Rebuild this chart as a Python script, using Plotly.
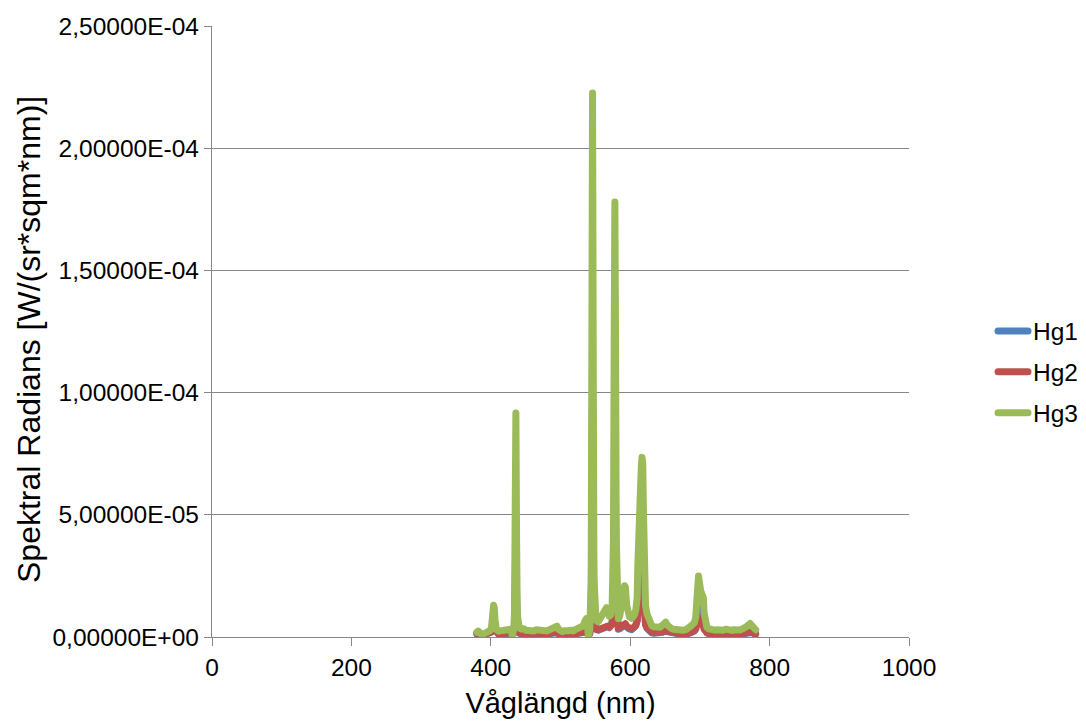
import numpy as np
import plotly.graph_objects as go

# Wavelength grid (nm) and spectral radiance of the three Hg lamp measurements,
# in units of 1e-6 W/(sr*sqm*nm)
wavelength = [
    380, 382, 385, 388, 391, 394, 397, 399, 401, 403, 404, 405, 406, 408, 411, 414,
    417, 420, 423, 426, 429, 431, 433, 434, 435, 436, 437, 438, 439, 441, 444, 447,
    450, 453, 456, 459, 462, 465, 468, 471, 474, 477, 480, 483, 486, 489, 492, 495,
    497, 500, 503, 506, 509, 512, 515, 518, 521, 524, 527, 530, 533, 535, 537, 539,
    540, 542, 543, 544, 545, 546, 547, 548, 549, 551, 554, 557, 560, 563, 565, 566,
    568, 570, 572, 574, 576, 577, 578, 579, 580, 581, 583, 585, 587, 589, 591, 592,
    593, 595, 597, 599, 602, 604, 606, 608, 610, 611, 612, 613, 614, 615, 616, 617,
    618, 619, 620, 621, 622, 624, 626, 628, 631, 634, 637, 640, 643, 646, 649, 651,
    653, 656, 659, 662, 665, 668, 671, 674, 677, 680, 683, 686, 689, 692, 694, 696,
    697, 698, 699, 701, 703, 704, 705, 706, 708, 710, 713, 716, 719, 722, 725, 728,
    731, 734, 737, 740, 743, 746, 749, 752, 755, 758, 761, 764, 767, 770, 772, 774,
    777, 780,
]

hg1 = [
    1.2, 1.4, 1.0, 0.5, 0.9, 1.1, 1.0, 1.3, 2.2, 4.5, 6.0, 5.5, 3.5, 1.6, 1.2, 1.2,
    1.1, 1.3, 1.5, 1.3, 1.4, 0.3, 1.8, 5.0, 22.0, 41.0, 18.0, 4.5, 2.2, 1.5, 1.3, 1.4,
    1.2, 1.0, 1.0, 1.1, 0.9, 1.2, 1.1, 0.8, 1.0, 0.7, 1.0, 1.1, 1.3, 1.6, 1.9, 1.8,
    1.2, 0.8, 1.0, 0.9, 0.8, 0.9, 1.0, 0.9, 1.2, 1.3, 1.4, 1.6, 1.9, 2.6, 3.0, 1.7,
    0.4, 1.5, 4.0, 10.0, 54.0, 100.0, 49.0, 11.0, 4.8, 3.0, 2.8, 3.2, 3.6, 4.0, 4.4, 4.6,
    4.3, 3.8, 4.4, 5.8, 18.0, 54.0, 80.0, 54.0, 18.0, 6.5, 3.2, 3.4, 4.0, 4.6, 5.0, 5.2,
    5.1, 4.0, 3.4, 3.2, 3.0, 3.3, 3.7, 4.6, 7.0, 13.0, 21.0, 24.0, 26.0, 29.0, 33.0, 35.0,
    34.0, 24.0, 15.0, 8.5, 5.5, 3.6, 2.8, 2.1, 1.7, 1.5, 1.5, 1.6, 1.5, 1.9, 2.4, 2.3,
    2.0, 1.5, 1.3, 1.2, 1.0, 1.1, 0.9, 1.0, 0.9, 1.0, 1.2, 1.6, 2.0, 2.6, 3.8, 8.0,
    11.5, 13.0, 12.0, 9.5, 8.0, 7.8, 6.5, 4.2, 2.4, 1.7, 1.3, 1.0, 1.1, 0.9, 1.0, 0.8,
    1.1, 0.9, 1.2, 0.9, 1.0, 0.9, 1.0, 0.8, 1.1, 0.9, 1.2, 1.4, 1.7, 2.0, 2.2, 1.9,
    1.4, 1.2,
]

hg2 = [
    1.5, 1.8, 1.2, 0.6, 1.1, 1.4, 1.3, 1.6, 2.0, 3.5, 4.2, 4.0, 2.8, 1.6, 1.3, 1.4,
    1.2, 1.5, 1.7, 1.5, 1.6, 0.3, 1.8, 4.0, 15.0, 27.0, 12.0, 3.5, 2.0, 1.6, 1.5, 1.6,
    1.3, 1.2, 1.1, 1.3, 1.1, 1.4, 1.3, 1.0, 1.2, 0.9, 1.1, 1.3, 1.5, 1.8, 2.1, 2.0,
    1.4, 1.0, 0.7, 1.0, 0.9, 1.1, 1.2, 1.1, 1.4, 1.5, 1.6, 1.8, 2.1, 2.8, 3.1, 1.8,
    0.4, 1.5, 3.0, 7.0, 36.0, 67.0, 33.0, 8.0, 4.2, 3.2, 3.0, 3.4, 3.9, 4.3, 4.6, 4.8,
    4.5, 4.0, 4.4, 5.2, 13.0, 36.0, 53.0, 36.0, 12.0, 5.5, 3.6, 3.8, 4.4, 5.0, 5.4, 5.5,
    5.4, 4.4, 3.8, 3.6, 3.5, 3.7, 4.1, 4.9, 6.5, 10.0, 16.0, 18.0, 19.0, 21.0, 24.0, 25.0,
    24.0, 17.0, 11.0, 7.0, 5.0, 3.8, 3.1, 2.5, 2.1, 1.9, 1.8, 1.9, 1.7, 2.1, 2.6, 2.5,
    2.1, 1.7, 1.5, 1.3, 1.1, 1.3, 1.0, 1.2, 1.0, 1.2, 1.4, 1.8, 2.1, 2.5, 3.2, 5.5,
    7.0, 7.5, 7.2, 6.0, 5.3, 5.2, 4.5, 3.2, 2.2, 1.8, 1.4, 1.1, 1.3, 1.0, 1.2, 0.9,
    1.3, 1.0, 1.4, 1.1, 1.2, 0.8, 1.2, 1.0, 1.3, 1.1, 1.4, 1.6, 1.9, 2.2, 2.4, 2.1,
    1.6, 1.3,
]

hg3 = [
    2.0, 2.4, 1.6, 0.8, 1.5, 2.2, 2.0, 2.6, 4.0, 9.5, 13.0, 12.0, 7.0, 3.0, 2.4, 2.6,
    2.3, 2.8, 3.4, 2.9, 3.2, 0.4, 3.5, 10.0, 48.0, 91.7, 40.0, 9.0, 4.5, 3.6, 3.2, 3.4,
    2.8, 2.6, 2.4, 2.7, 2.5, 3.0, 2.9, 2.4, 2.6, 2.2, 2.5, 2.8, 3.2, 3.9, 4.6, 4.4,
    3.2, 2.4, 2.2, 2.6, 2.3, 2.6, 2.8, 2.5, 3.0, 3.3, 3.4, 3.9, 4.6, 6.5, 7.5, 4.0,
    0.6, 3.0, 8.0, 22.0, 120.0, 222.6, 110.0, 24.0, 10.0, 6.8, 6.2, 7.5, 8.8, 10.0, 11.5, 12.0,
    10.5, 8.5, 9.0, 12.0, 40.0, 120.0, 178.0, 120.0, 40.0, 13.0, 7.5, 8.5, 12.0, 17.0, 20.0, 21.0,
    20.5, 13.0, 9.5, 8.2, 7.6, 8.0, 9.0, 11.0, 16.0, 30.0, 48.0, 52.0, 55.0, 62.0, 70.0, 73.5,
    71.0, 52.0, 32.0, 19.0, 13.0, 9.5, 7.5, 5.6, 4.6, 4.2, 4.0, 4.3, 4.0, 4.8, 6.0, 6.1,
    5.0, 4.0, 3.5, 3.2, 3.0, 3.2, 2.9, 3.1, 2.8, 3.0, 3.3, 4.2, 5.0, 5.8, 8.0, 17.0,
    24.0, 25.0, 23.0, 19.0, 17.5, 18.0, 16.0, 10.0, 5.5, 4.0, 3.3, 2.9, 3.1, 2.8, 3.0, 2.7,
    3.1, 2.8, 3.2, 2.9, 3.1, 2.7, 3.0, 2.8, 3.1, 2.9, 3.3, 3.6, 4.3, 5.0, 5.5, 4.8,
    3.6, 3.0,
]

UNIT = 1e-6  # stored values are in micro-units

series_names = ["Hg1", "Hg2", "Hg3"]
series_values = [hg1, hg2, hg3]
series_colors = ["#4F81BD", "#C0504D", "#9BBB59"]

y_tickvals = [0, 5e-5, 1e-4, 1.5e-4, 2e-4, 2.5e-4]
y_ticktext = ["0,00000E+00", "5,00000E-05", "1,00000E-04",
              "1,50000E-04", "2,00000E-04", "2,50000E-04"]
x_tickvals = [0, 200, 400, 600, 800, 1000]

x_title = "Våglängd (nm)"
y_title = "Spektral Radians [W/(sr*sqm*nm)]"

FONT = "Liberation Sans, Arial, sans-serif"
GRID = "#868686"

fig = go.Figure()
for name, vals, color in zip(series_names, series_values, series_colors):
    fig.add_trace(go.Scatter(
        x=wavelength,
        y=np.array(vals) * UNIT,
        mode="lines",
        name=name,
        legendgroup=name,
        line=dict(color=color, width=7, shape="linear"),
    ))

fig.update_layout(
    width=1086,
    height=726,
    margin=dict(l=212, r=177, t=26, b=89, autoexpand=False),
    paper_bgcolor="white",
    plot_bgcolor="white",
    font=dict(family=FONT, size=24, color="#000000"),
    showlegend=True,
    legend=dict(
        x=(993 - 212) / 697, xanchor="left",
        y=(637 - 372) / 611, yanchor="middle",
        font=dict(family=FONT, size=24.5, color="#000000"),
        tracegroupgap=6,
        bgcolor="rgba(0,0,0,0)",
        itemwidth=30,
    ),
    # vertical axis title placed beside the tick labels
    annotations=[dict(
        text=y_title,
        xref="paper", yref="paper",
        x=(29 - 212) / 697, y=(637 - 340) / 611,
        xanchor="center", yanchor="middle",
        textangle=-90, showarrow=False,
        font=dict(family=FONT, size=32, color="#000000"),
    )],
)

fig.update_xaxes(
    range=[0, 1000],
    tickvals=x_tickvals,
    ticks="outside", ticklen=8, tickcolor=GRID, tickwidth=1.3,
    showline=True, linecolor=GRID, linewidth=1.3,
    showgrid=False, zeroline=False,
    tickfont=dict(family=FONT, size=24.5, color="#000000"),
    title=dict(text=x_title, font=dict(family=FONT, size=29, color="#000000"), standoff=13),
)

fig.update_yaxes(
    range=[0, 2.5e-4],
    tickvals=y_tickvals,
    ticktext=y_ticktext,
    ticks="outside", ticklen=7, tickcolor=GRID, tickwidth=1.3,
    showline=True, linecolor=GRID, linewidth=1.3,
    showgrid=True, gridcolor=GRID, gridwidth=1.3,
    zeroline=False,
    tickfont=dict(family=FONT, size=24.5, color="#000000"),
)

# rounded joins and caps on the thick spectrum lines
round_lines = (
    "var s=document.createElement('style');"
    "s.innerHTML='.scatterlayer .js-line, .legendlines path"
    "{stroke-linejoin:round !important;stroke-linecap:round !important;}';"
    "document.head.appendChild(s);"
)

fig.write_html("out.html", post_script=round_lines)
